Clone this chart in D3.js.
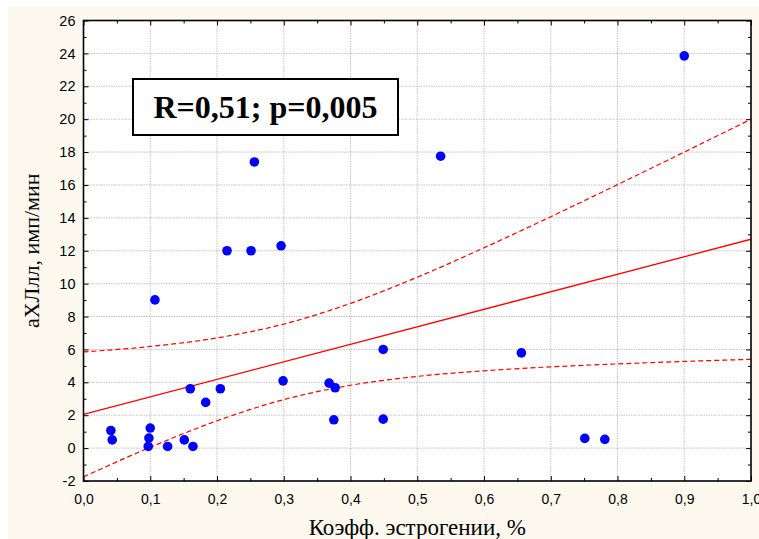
<!DOCTYPE html>
<html lang="ru">
<head>
    <meta charset="UTF-8">
    <title>aХЛлл vs Коэфф. эстрогении</title>
    <script src="https://d3js.org/d3.v7.min.js"></script>
    <style>
        body { margin: 0; background: #fff; }
        svg { display: block; }
        .tick text { font-family: "Liberation Sans", Arial, sans-serif; fill: #000; }
        .tick line { stroke: #000; }
        .grid line { stroke: #c4c4c4; stroke-dasharray: 1.5,1; }
    </style>
</head>
<body>
<svg width="759" height="539"></svg>
<script>
    // точки (Коэфф. эстрогении, %; аХЛлл, имп/мин)
    const estrogen = [0.041, 0.043, 0.100, 0.098, 0.097, 0.107, 0.126, 0.151, 0.164, 0.160,
                      0.183, 0.205, 0.215, 0.251, 0.256, 0.296, 0.299, 0.368, 0.377, 0.375,
                      0.449, 0.449, 0.535, 0.656, 0.751, 0.781, 0.900];
    const achl = [1.07, 0.50, 1.22, 0.61, 0.10, 9.01, 0.10, 0.50, 0.10, 3.61,
                  2.78, 3.61, 12.0, 12.0, 17.4, 12.3, 4.09, 3.95, 3.67, 1.72,
                  6.0, 1.76, 17.75, 5.79, 0.59, 0.53, 23.85];

    // линия регрессии
    const fitX = [0, 1];
    const fitY = [2.05, 12.7];

    // доверительные границы
    const ciX = [0, 0.1, 0.2, 0.3, 0.4, 0.5, 0.6, 0.7, 0.8, 0.9, 1.0];
    const ciUpper = [5.85, 6.18, 6.70, 7.54, 8.80, 10.39, 12.18, 14.07, 16.02, 18.0, 20.0];
    const ciLower = [-1.75, 0.05, 1.66, 2.95, 3.82, 4.36, 4.70, 4.94, 5.12, 5.27, 5.40];

    const xTicks = d3.range(0, 11).map(i => i / 10);
    const yTicks = d3.range(-2, 27, 2);

    const svg = d3.select("svg");
    const pL = 83.5, pR = 751, pT = 20.5, pB = 481;

    // фон
    svg.append("rect").attr("x", 8).attr("y", 7).attr("width", 751).attr("height", 532)
        .attr("fill", "#fdf9ef");
    svg.append("rect").attr("x", pL).attr("y", pT)
        .attr("width", pR - pL).attr("height", pB - pT).attr("fill", "#fff");

    const x = d3.scaleLinear().domain([0, 1]).range([pL, pR]);
    const y = d3.scaleLinear().domain([-2, 26]).range([pB, pT]);
    const fmt = d => d.toFixed(1).replace(".", ",");

    // сетка
    const grid = svg.append("g").attr("class", "grid");
    grid.selectAll(".gx").data(xTicks.slice(1, -1)).enter().append("line")
        .attr("x1", d => x(d)).attr("x2", d => x(d)).attr("y1", pT).attr("y2", pB);
    grid.selectAll(".gy").data(yTicks.slice(1, -1)).enter().append("line")
        .attr("y1", d => y(d)).attr("y2", d => y(d)).attr("x1", pL).attr("x2", pR);

    const xMinor = d3.range(0, 10).map(i => i / 10 + 0.05);
    const yMinor = d3.range(-1, 26, 2);

    function axisGroup(axis, transform) {
        const g = svg.append("g").attr("transform", transform).call(axis);
        g.select(".domain").remove();
        return g;
    }

    // оси: основные и мелкие деления внутрь
    axisGroup(d3.axisBottom(x).tickValues(xTicks).tickSize(-5).tickPadding(13).tickFormat(fmt),
        `translate(0,${pB})`).selectAll("text").attr("font-size", 14);
    axisGroup(d3.axisBottom(x).tickValues(xMinor).tickSize(-3).tickFormat(""), `translate(0,${pB})`);
    axisGroup(d3.axisTop(x).tickValues(xTicks).tickSize(-5).tickFormat(""), `translate(0,${pT})`);
    axisGroup(d3.axisTop(x).tickValues(xMinor).tickSize(-3).tickFormat(""), `translate(0,${pT})`);

    axisGroup(d3.axisLeft(y).tickValues(yTicks).tickSize(-5).tickPadding(8).tickFormat(d => String(d)),
        `translate(${pL},0)`).selectAll("text").attr("font-size", 14.5);
    axisGroup(d3.axisLeft(y).tickValues(yMinor).tickSize(-3).tickFormat(""), `translate(${pL},0)`);
    axisGroup(d3.axisRight(y).tickValues(yTicks).tickSize(-5).tickFormat(""), `translate(${pR},0)`);
    axisGroup(d3.axisRight(y).tickValues(yMinor).tickSize(-3).tickFormat(""), `translate(${pR},0)`);

    // регрессия
    svg.append("clipPath").attr("id", "plot").append("rect")
        .attr("x", pL).attr("y", pT).attr("width", pR - pL).attr("height", pB - pT);
    const lines = svg.append("g").attr("clip-path", "url(#plot)");
    const line = d3.line().x(d => x(d[0])).y(d => y(d[1]));
    const curve = d3.line().x(d => x(d[0])).y(d => y(d[1])).curve(d3.curveMonotoneX);

    lines.append("path").attr("d", line(d3.zip(fitX, fitY)))
        .attr("fill", "none").attr("stroke", "#ff0000").attr("stroke-width", 1.3);
    [ciUpper, ciLower].forEach(ci => {
        lines.append("path").attr("d", curve(d3.zip(ciX, ci)))
            .attr("fill", "none").attr("stroke", "#ff0000").attr("stroke-width", 1.2)
            .attr("stroke-dasharray", "5,3");
    });

    // точки
    svg.append("g").selectAll("circle").data(d3.zip(estrogen, achl)).enter().append("circle")
        .attr("cx", d => x(d[0])).attr("cy", d => y(d[1])).attr("r", 4.8).attr("fill", "#0000ff");

    // рамка
    svg.append("rect").attr("x", pL).attr("y", pT)
        .attr("width", pR - pL).attr("height", pB - pT)
        .attr("fill", "none").attr("stroke", "#000").attr("stroke-width", 1.6);

    // подпись R, p
    svg.append("rect").attr("x", 133).attr("y", 79).attr("width", 265).attr("height", 56)
        .attr("fill", "#fff").attr("stroke", "#000").attr("stroke-width", 2);
    svg.append("text").attr("x", 265.5).attr("y", 118).attr("text-anchor", "middle")
        .attr("font-family", "Liberation Serif, Times New Roman, serif").attr("font-weight", "bold")
        .attr("font-size", 32).text("R=0,51; p=0,005");

    // названия осей
    svg.append("text").attr("x", (pL + pR) / 2).attr("y", 535).attr("text-anchor", "middle")
        .attr("font-family", "Liberation Serif, Times New Roman, serif").attr("font-size", 23)
        .text("Коэфф. эстрогении, %");
    svg.append("text").attr("transform", `translate(39,${(pT + pB) / 2}) rotate(-90)`)
        .attr("text-anchor", "middle")
        .attr("font-family", "Liberation Serif, Times New Roman, serif").attr("font-size", 22)
        .text("аХЛлл, имп/мин");
</script>
</body>
</html>
